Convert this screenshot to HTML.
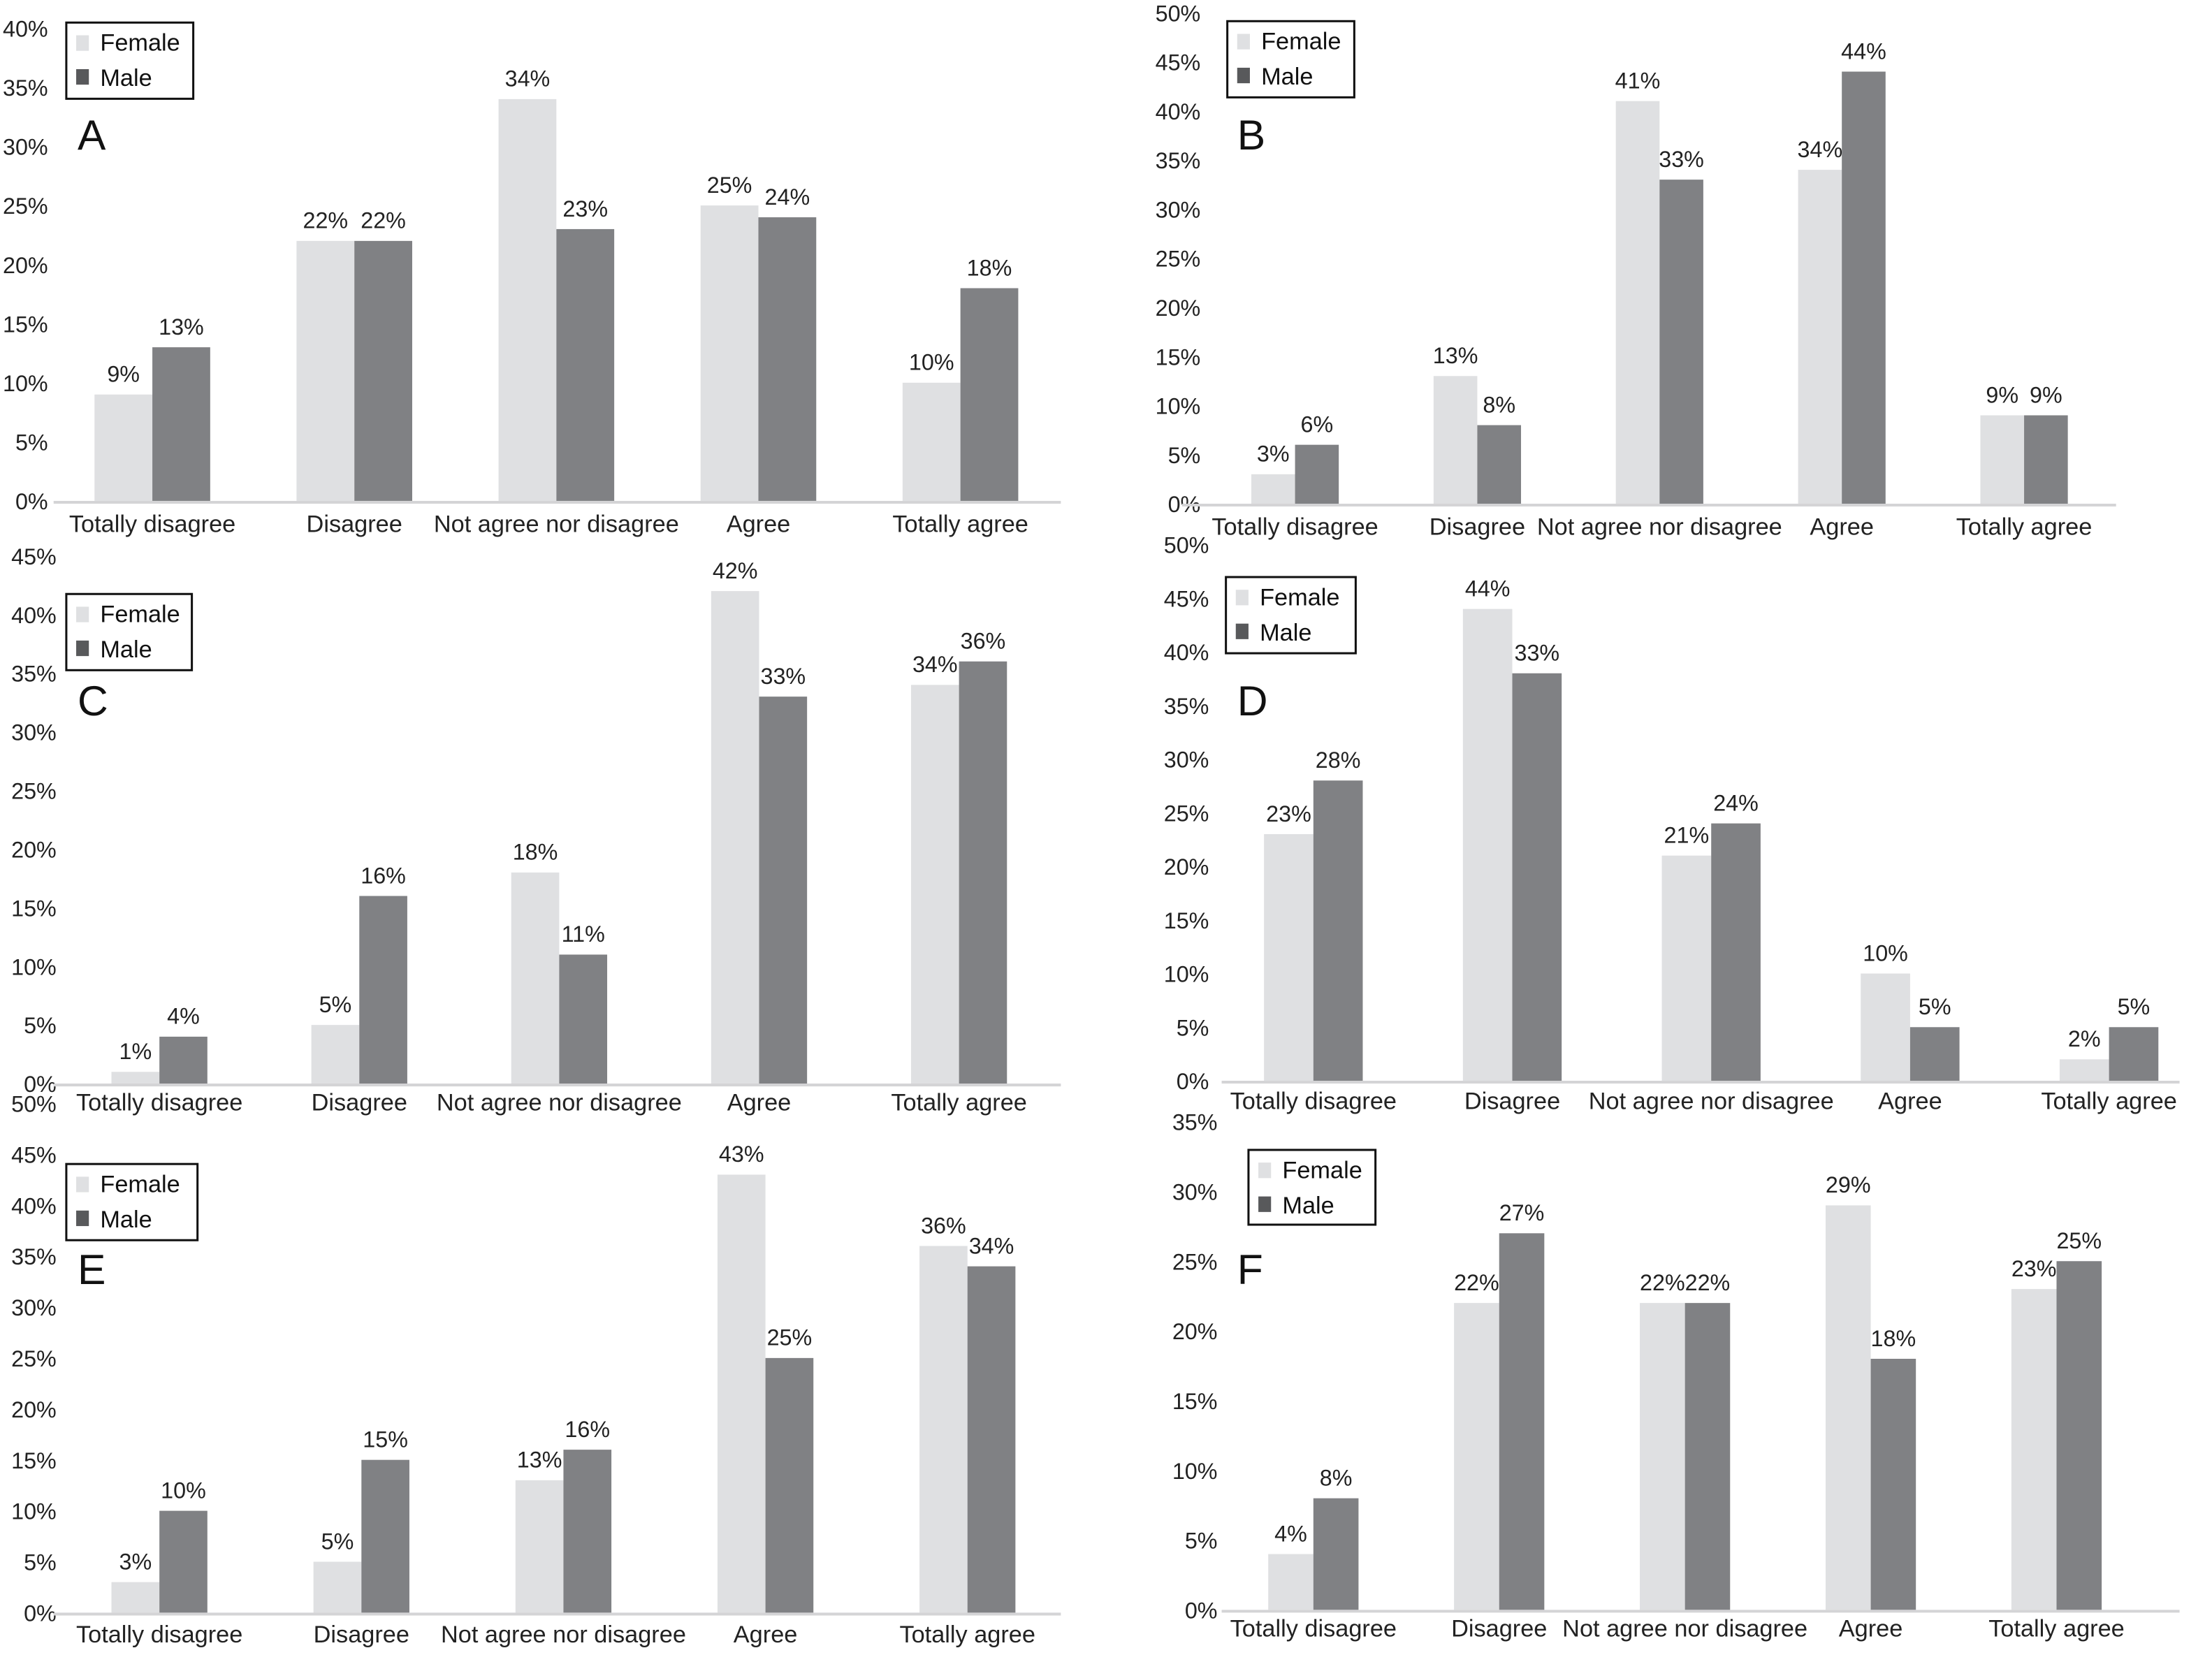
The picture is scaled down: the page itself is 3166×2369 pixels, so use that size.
<!DOCTYPE html>
<html><head><meta charset="utf-8"><style>
html,body{margin:0;padding:0;background:#fff;}
svg{display:block;font-family:"Liberation Sans",sans-serif;}
</style></head><body>
<svg id="fig" width="3166" height="2369" viewBox="0 0 1568 1173" preserveAspectRatio="none" xmlns="http://www.w3.org/2000/svg"></svg>
<script>
const categories = ["Totally disagree","Disagree","Not agree nor disagree","Agree","Totally agree"];
const femaleA = [9,22,34,25,10];
const maleA   = [13,22,23,24,18];
const femaleB = [3,13,41,34,9];
const maleB   = [6,8,33,44,9];
const femaleC = [1,5,18,42,34];
const maleC   = [4,16,11,33,36];
const femaleD = [23,44,21,10,2];
const maleD   = [28,38,24,5,5];
const maleDLabels = ["28%","33%","24%","5%","5%"];
const femaleE = [3,5,13,43,36];
const maleE   = [10,15,16,25,34];
const femaleF = [4,22,22,29,23];
const maleF   = [8,27,22,18,25];
const ticksA = [0,5,10,15,20,25,30,35,40];
const ticksB = [0,5,10,15,20,25,30,35,40,45,50];
const ticksC = [0,5,10,15,20,25,30,35,40,45];
const ticksD = [0,5,10,15,20,25,30,35,40,45,50];
const ticksE = [0,5,10,15,20,25,30,35,40,45,50];
const ticksF = [0,5,10,15,20,25,30,35];

const NS="http://www.w3.org/2000/svg";
const svg=document.getElementById('fig');
function mk(tag,attrs,parent){const e=document.createElementNS(NS,tag);for(const k in attrs)e.setAttribute(k,attrs[k]);(parent||svg).appendChild(e);return e;}

const panels=[
 {id:'A',f:femaleA,m:maleA,ticks:ticksA,y0:355,yTop:20,max:40,ax0:38,ax1:752,c0:108,step:143.2,bw:41,tickX:34,leg:[47,16,90,54],lx:55,ly:106,catY:377},
 {id:'B',f:femaleB,m:maleB,ticks:ticksB,y0:357,yTop:9,max:50,ax0:838,ax1:1500,c0:918,step:129.2,bw:31,tickX:851,leg:[870,15,90,54],lx:877,ly:106,catY:379},
 {id:'C',f:femaleC,m:maleC,ticks:ticksC,y0:768,yTop:394,max:45,ax0:38,ax1:752,c0:113,step:141.7,bw:34,tickX:40,leg:[47,421,89,54],lx:55,ly:507,catY:787},
 {id:'D',f:femaleD,m:maleD,ticks:ticksD,y0:766,yTop:386,max:50,ax0:866,ax1:1545,c0:931,step:141,bw:35,tickX:857,leg:[869,409,92,54],lx:877,ly:507,catY:786,mLabels:maleDLabels},
 {id:'E',f:femaleE,m:maleE,ticks:ticksE,y0:1143,yTop:782,max:50,ax0:38,ax1:752,c0:113,step:143.2,bw:34,tickX:40,leg:[47,825,93,54],lx:55,ly:910,catY:1164},
 {id:'F',f:femaleF,m:maleF,ticks:ticksF,y0:1141,yTop:795,max:35,ax0:866,ax1:1545,c0:931,step:131.7,bw:32,tickX:863,leg:[885,815,90,53],lx:877,ly:910,catY:1160}
];

panels.forEach(p=>{
  const g=mk('g',{});
  
  
  const y=v=>p.y0-(v/p.max)*(p.y0-p.yTop);
  const x=i=>p.c0+i*p.step;
  p.ticks.forEach(t=>{
    const tl=mk('text',{x:p.tickX,y:y(t)+6,'text-anchor':'end','font-size':16,fill:'#222'},g);
    
    
    tl.textContent=t+'%';
  });
  categories.forEach((c,i)=>{
    const fv=p.f[i], mv=p.m[i];
    const fb=mk('rect',{x:x(i)-p.bw,y:y(fv),width:p.bw,height:p.y0-y(fv),fill:'#dfe0e2'},g);
    
    
    const mb=mk('rect',{x:x(i),y:y(mv),width:p.bw,height:p.y0-y(mv),fill:'#808184'},g);
    
    
    const fl=mk('text',{x:x(i)-p.bw/2,y:y(fv)-9,'text-anchor':'middle','font-size':16,fill:'#222'},g);
    
    
    fl.textContent=fv+'%';
    const ml=mk('text',{x:x(i)+p.bw/2,y:y(mv)-9,'text-anchor':'middle','font-size':16,fill:'#222'},g);
    
    
    ml.textContent=p.mLabels?p.mLabels[i]:mv+'%';
    const cl=mk('text',{x:x(i),y:p.catY,'text-anchor':'middle','font-size':17,fill:'#222'},g);
    
    
    cl.textContent=c;
  });
  const ax=mk('line',{x1:p.ax0,x2:p.ax1,y1:p.y0+1,y2:p.y0+1,stroke:'#d4d4d6','stroke-width':2},g);
  
  
  const [lx,ly,lw,lh]=p.leg;
  const lg=mk('g',{},g);
  
  
  mk('rect',{x:lx,y:ly,width:lw,height:lh,fill:'#fff',stroke:'#111','stroke-width':1.5},lg);
  mk('rect',{x:lx+7,y:ly+9,width:9,height:11,fill:'#dfe0e2'},lg);
  mk('rect',{x:lx+7,y:ly+33,width:9,height:11,fill:'#58595b'},lg);
  const t1=mk('text',{x:lx+24,y:ly+20,'font-size':17,fill:'#111'},lg);
  
  
  t1.textContent='Female';
  const t2=mk('text',{x:lx+24,y:ly+45,'font-size':17,fill:'#111'},lg);
  
  
  t2.textContent='Male';
  const pl=mk('text',{x:p.lx,y:p.ly,'font-size':30,fill:'#111'},g);
  
  
  pl.textContent=p.id;
});
</script>
</body></html>
